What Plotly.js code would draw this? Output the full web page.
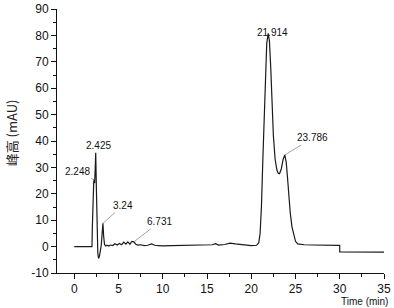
<!DOCTYPE html>
<html>
<head>
<meta charset="utf-8">
<script src="https://cdn.plot.ly/plotly-3.0.1.min.js"></script>
<style>html,body{margin:0;padding:0;background:#fff;}#chart{width:394px;height:308px;}</style>
</head>
<body>
<div id="chart"></div>
<script>
// Retention time (min)
const time = [0, 1.0, 2.0, 2.05, 2.12, 2.2, 2.248, 2.3, 2.36, 2.425, 2.5, 2.58, 2.66, 2.75, 2.85, 2.95, 3.05, 3.15, 3.24, 3.32, 3.42, 3.55, 3.7, 3.9, 4.1, 4.35, 4.6, 4.85, 5.1, 5.35, 5.6, 5.84, 6.05, 6.29, 6.5, 6.731, 6.95, 7.2, 7.5, 7.9, 8.3, 8.73, 9.1, 9.5, 10, 11, 12, 13, 14, 15, 15.6, 15.96, 16.3, 17.0, 17.6, 18.2, 19, 20, 20.6, 20.85, 21.0, 21.15, 21.3, 21.45, 21.6, 21.75, 21.914, 22.05, 22.2, 22.35, 22.5, 22.7, 22.9, 23.05, 23.2, 23.4, 23.6, 23.786, 23.95, 24.1, 24.25, 24.4, 24.6, 24.8, 25.0, 25.25, 25.6, 26, 27, 28, 29, 29.99, 30.0, 31, 33, 35];
// Signal (mAU)
const signal = [0, 0, 0, 8, 20, 24.5, 25.3, 24, 29, 35.5, 22, 6, -2.5, -4.5, -3.5, -1.5, 0.5, 5, 8.8, 4, 0.8, 0.2, 0.5, 0.2, 0.6, 0.4, 1.1, 0.6, 1.2, 0.7, 1.7, 0.9, 1.8, 0.9, 2.0, 1.8, 0.9, 0.6, 0.7, 0.4, 0.5, 1.0, 0.5, 0.4, 0.3, 0.4, 0.5, 0.4, 0.6, 0.6, 0.7, 1.1, 0.6, 0.8, 1.3, 1.0, 0.7, 0.4, 0.5, 1.5, 5, 15, 32, 48, 65, 77, 80.8, 78, 68, 55, 42, 33, 29, 27.8, 27.6, 29.5, 33, 34.7, 32, 26, 19, 13, 7.5, 4, 2, 1.0, 0.8, 0.7, 0.6, 0.6, 0.5, 0.5, -2.0, -2.0, -2.0, -2.1];
// Peak labels
const peakTimes = [2.248, 2.425, 3.24, 6.731, 21.914, 23.786];
const peakHeights = [25.3, 35.5, 8.8, 1.8, 80.8, 34.7];
const peakLabels = ['2.248', '2.425', '3.24', '6.731', '21.914', '23.786'];
const yTicks = [-10, 0, 10, 20, 30, 40, 50, 60, 70, 80, 90];
const xTicks = [0, 5, 10, 15, 20, 25, 30, 35];

// label placement (pixel offsets of text from the peak)
const offsets = [
  {arrow: true, ax: -17, ay: -8},
  {arrow: false, xs: 2.5, ys: 7},
  {arrow: true, ax: 20, ay: -18},
  {arrow: true, ax: 26, ay: -20},
  {arrow: false, xs: 4.6, ys: 1},
  {arrow: true, ax: 28, ay: -17}
];

const annotations = peakLabels.map((t, i) => {
  const o = offsets[i];
  const a = {x: peakTimes[i], y: peakHeights[i], xref: 'x', yref: 'y', text: t,
    font: {family: 'Liberation Sans, Arial, sans-serif', size: 10, color: '#111'}};
  if (o.arrow) {
    Object.assign(a, {showarrow: true, arrowhead: 0, arrowwidth: 0.6, arrowcolor: '#666', ax: o.ax, ay: o.ay, standoff: 0});
  } else {
    Object.assign(a, {showarrow: false, xshift: o.xs, yshift: o.ys});
  }
  return a;
});

annotations.push({
  text: 'Time (min)', xref: 'paper', yref: 'paper', x: 1.018, y: -0.108,
  xanchor: 'right', yanchor: 'middle', showarrow: false,
  font: {family: 'Liberation Sans, Arial, sans-serif', size: 10, color: '#111'}
});
annotations.push({
  text: '峰高 (mAU)', xref: 'paper', yref: 'paper', x: -0.14, y: 0.53,
  xanchor: 'center', yanchor: 'middle', textangle: -90, showarrow: false,
  font: {family: 'Noto Sans CJK SC, Liberation Sans, sans-serif', size: 13, color: '#222'}
});

const trace = {
  x: time, y: signal, type: 'scatter', mode: 'lines',
  line: {color: '#1a1a1a', width: 1.2}, hoverinfo: 'skip'
};

const layout = {
  width: 394, height: 308,
  margin: {l: 57, r: 10, t: 9, b: 35},
  paper_bgcolor: '#fff', plot_bgcolor: '#fff',
  showlegend: false,
  font: {family: 'Liberation Sans, Arial, sans-serif', size: 12, color: '#111'},
  xaxis: {
    range: [-1.95, 35], tickvals: xTicks, ticktext: xTicks.map(String),
    showgrid: false, zeroline: false, showline: true, linecolor: '#111', linewidth: 1,
    ticks: 'outside', ticklen: 5, tickwidth: 1, tickcolor: '#111',
    minor: {tickvals: [2.5, 7.5, 12.5, 17.5, 22.5, 27.5, 32.5], ticks: 'outside', ticklen: 3, tickcolor: '#111', showgrid: false},
    tickfont: {size: 12, color: '#111'}
  },
  yaxis: {
    range: [-10, 90], tickvals: yTicks, ticktext: yTicks.map(String),
    showgrid: false, zeroline: false, showline: true, linecolor: '#111', linewidth: 1,
    ticks: 'outside', ticklen: 5, tickwidth: 1, tickcolor: '#111',
    minor: {tickvals: [-5, 5, 15, 25, 35, 45, 55, 65, 75, 85], ticks: 'outside', ticklen: 3, tickcolor: '#111', showgrid: false},
    tickfont: {size: 12, color: '#111'}
  },
  annotations: annotations
};

Plotly.newPlot('chart', [trace], layout, {staticPlot: true, displayModeBar: false});
</script>
</body>
</html>
